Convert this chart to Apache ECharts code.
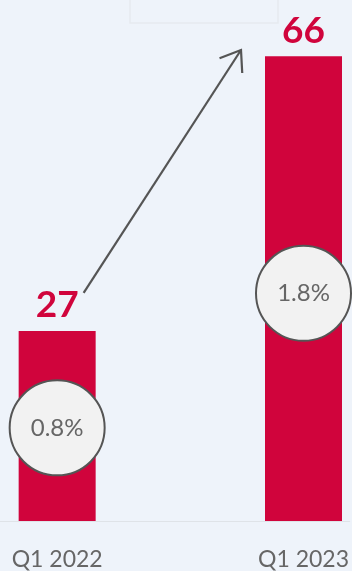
<!DOCTYPE html>
<html>
<head>
<meta charset="utf-8">
<script src="https://cdn.jsdelivr.net/npm/echarts@6/dist/echarts.min.js"></script>
<style>
  html, body { margin: 0; padding: 0; background: #eef3fa; }
  #chart { width: 352px; height: 571px; }
</style>
</head>
<body>
<div id="chart"></div>
<script>
// Quarter categories and the values drawn for each
const categories = ['Q1 2022', 'Q1 2023'];
const barValues = [27, 66];
const shareLabels = ['0.8%', '1.8%'];

const RED = '#d0043c';
const GREY = '#555555';

const chart = echarts.init(document.getElementById('chart'));

// quarters are placed on a numeric axis (index 0 and 1) so the view can
// show only part of the outer bands
const option = {
  backgroundColor: '#eef3fa',
  animation: false,
  grid: { left: 0, right: 0, top: 0, bottom: 50, containLabel: false },
  xAxis: {
    type: 'value',
    min: -0.232,
    max: 1.1875,
    splitLine: { show: false },
    axisLine: { show: true, onZero: false, lineStyle: { color: '#dfe3e8', width: 1 } },
    axisTick: { show: false },
    axisLabel: {
      customValues: categories.map((c, i) => i),
      formatter: v => categories[Math.round(v)],
      showMinLabel: true,
      showMaxLabel: true,
      margin: 27,
      color: '#666666',
      fontFamily: 'Lato',
      fontSize: 23
    }
  },
  yAxis: {
    type: 'value',
    min: 0,
    max: 74,
    show: false,
    splitLine: { show: false }
  },
  series: [
    {
      type: 'bar',
      data: barValues.map((v, i) => [i, v]),
      barWidth: 77,
      itemStyle: { color: RED },
      label: {
        show: true,
        position: 'top',
        distance: 7,
        formatter: p => p.value[1],
        color: RED,
        fontFamily: 'Lato',
        fontWeight: 'bold',
        fontSize: 37
      },
      z: 2
    },
    {
      // share badges sitting on the middle of each bar
      type: 'scatter',
      data: barValues.map((v, i) => [i, v * 0.49]),
      symbol: 'circle',
      symbolSize: 95,
      itemStyle: { color: '#f2f2f2', opacity: 1, borderColor: GREY, borderWidth: 2 },
      label: {
        show: true,
        position: 'inside',
        formatter: p => shareLabels[p.dataIndex],
        color: '#666666',
        fontFamily: 'Lato',
        fontWeight: 'normal',
        fontSize: 24
      },
      z: 3
    }
  ]
};

chart.setOption(option);

// Growth arrow from beside the first value label up towards the second bar
function drawArrow() {
  const from = chart.convertToPixel({ gridIndex: 0 }, [0, barValues[0] + 5.4]);
  const to = chart.convertToPixel({ gridIndex: 0 }, [1, barValues[1] + 0.9]);
  const x1 = from[0] + 26.5, y1 = from[1];
  const x2 = to[0] - 62.5, y2 = to[1];
  const len = Math.hypot(x2 - x1, y2 - y1);
  const ux = (x1 - x2) / len, uy = (y1 - y2) / len;
  const ang = 36 * Math.PI / 180, head = 23;
  const rot = (a) => [
    x2 + head * (ux * Math.cos(a) - uy * Math.sin(a)),
    y2 + head * (ux * Math.sin(a) + uy * Math.cos(a))
  ];
  const left = rot(ang), right = rot(-ang);
  chart.setOption({
    graphic: [
      {
        type: 'rect',
        shape: { x: 130, y: -2, width: 148, height: 25 },
        style: { fill: 'none', stroke: '#e6eaef', lineWidth: 1.5 },
        z: 1
      },
      {
        type: 'line',
        shape: { x1: x1, y1: y1, x2: x2, y2: y2 },
        style: { stroke: GREY, lineWidth: 2.2 },
        z: 10
      },
      {
        type: 'polyline',
        shape: { points: [left, [x2, y2], right] },
        style: { stroke: GREY, lineWidth: 2.2, fill: null },
        z: 10
      }
    ]
  });
}
drawArrow();
</script>
</body>
</html>
